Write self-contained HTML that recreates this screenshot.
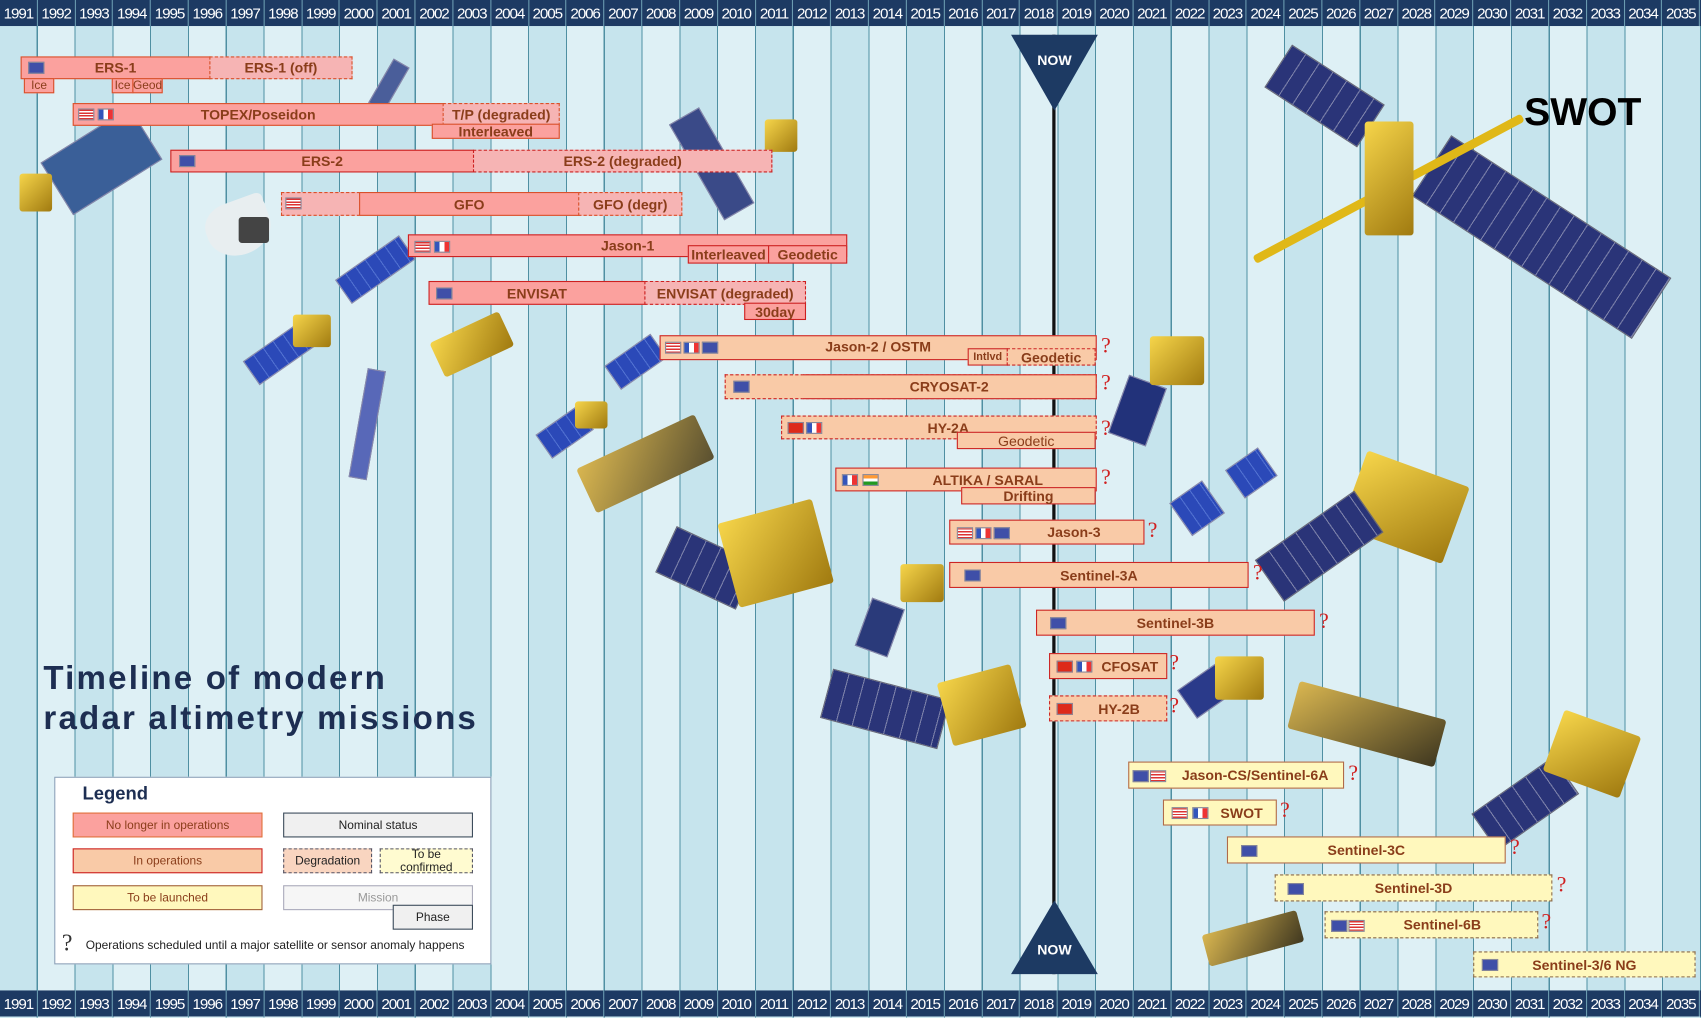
<!DOCTYPE html>
<html><head><meta charset="utf-8"><style>
html,body{margin:0;padding:0;width:1701px;height:1018px;overflow:hidden;background:#dff0f5}
#w{position:absolute;left:0;top:0;width:1568px;height:938px;transform:scale(1.08482);transform-origin:0 0;font-family:"Liberation Sans",sans-serif;
background:repeating-linear-gradient(90deg,#c6e4ed 0 33.8px,#4f8fa2 33.8px 34.84px,#def0f5 34.84px 68.65px,#4f8fa2 68.65px 69.69px);overflow:hidden}
.yr{position:absolute;left:0;width:1568px;height:24px;background:#1d3a63;display:flex}
.yr span{width:33.84px;border-right:1px solid #6b9bb0;color:#fff;font-size:14px;line-height:24px;text-align:center;letter-spacing:-1px;flex:none}
.b{position:absolute;box-sizing:border-box;border:1.5px solid #d9502a;background:#fba19e;color:#8a3d1a;font-weight:bold;font-size:13px;display:flex;align-items:center;justify-content:center;white-space:nowrap}
.d{border-style:dashed;background:#f6b4b4}
.r{border-color:#cc2020}
.o{background:#f9caa7;border-color:#cc2525}
.od{background:#f9caa7;border-color:#cc2525;border-style:dashed}
.y{background:#fff8bd;border-color:#b06a4a}
.yd{background:#fff8bd;border-color:#8a6a4a;border-style:dashed}
.s{font-size:11px}
.f{position:absolute;width:13px;height:9px;background:#3f4fa8;border:1px solid #889}
.us{background:repeating-linear-gradient(#d33 0 1.3px,#fff 1.3px 2.6px)}
.fr{background:linear-gradient(90deg,#3355bb 33%,#fff 33% 66%,#e33 66%)}
.cn{background:#dd2a1a}
.in{background:linear-gradient(#f93 33%,#fff 33% 66%,#292 66%)}
.q{position:absolute;color:#d02020;font-size:20px;font-family:"Liberation Serif",serif}
.p{position:absolute;background:repeating-linear-gradient(90deg,#2b49b8 0 10px,#5070d0 10px 11px);border:1px solid #88a}
.pd{position:absolute;background:repeating-linear-gradient(90deg,#2a3478 0 14px,#7a7fa8 14px 15px);border:1px solid #667}
.g{position:absolute;background:linear-gradient(135deg,#f6d54a,#a07a10);border-radius:3px}
.lg{position:absolute;box-sizing:border-box;font-size:11px;display:flex;align-items:center;justify-content:center;text-align:center;line-height:12px}
</style></head><body><div id="w">
<div class="yr" style="top:0"><span>1991</span><span>1992</span><span>1993</span><span>1994</span><span>1995</span><span>1996</span><span>1997</span><span>1998</span><span>1999</span><span>2000</span><span>2001</span><span>2002</span><span>2003</span><span>2004</span><span>2005</span><span>2006</span><span>2007</span><span>2008</span><span>2009</span><span>2010</span><span>2011</span><span>2012</span><span>2013</span><span>2014</span><span>2015</span><span>2016</span><span>2017</span><span>2018</span><span>2019</span><span>2020</span><span>2021</span><span>2022</span><span>2023</span><span>2024</span><span>2025</span><span>2026</span><span>2027</span><span>2028</span><span>2029</span><span>2030</span><span>2031</span><span>2032</span><span>2033</span><span>2034</span><span>2035</span></div>
<div class="yr" style="top:913px"><span>1991</span><span>1992</span><span>1993</span><span>1994</span><span>1995</span><span>1996</span><span>1997</span><span>1998</span><span>1999</span><span>2000</span><span>2001</span><span>2002</span><span>2003</span><span>2004</span><span>2005</span><span>2006</span><span>2007</span><span>2008</span><span>2009</span><span>2010</span><span>2011</span><span>2012</span><span>2013</span><span>2014</span><span>2015</span><span>2016</span><span>2017</span><span>2018</span><span>2019</span><span>2020</span><span>2021</span><span>2022</span><span>2023</span><span>2024</span><span>2025</span><span>2026</span><span>2027</span><span>2028</span><span>2029</span><span>2030</span><span>2031</span><span>2032</span><span>2033</span><span>2034</span><span>2035</span></div>

<div class="p" style="left:45px;top:120px;width:95px;height:55px;transform:rotate(-32deg);background:#3a5f98"></div>
<div class="g" style="left:18px;top:160px;width:30px;height:35px"></div>
<div style="position:absolute;left:190px;top:185px;width:60px;height:50px;background:#e8eef0;border-radius:40% 10% 50% 50%;transform:rotate(-20deg)"></div>
<div class="g" style="left:220px;top:200px;width:28px;height:24px;background:#444"></div>
<div class="p" style="left:350px;top:55px;width:15px;height:45px;transform:rotate(30deg);background:#4a5e9a"></div>
<div class="p" style="left:310px;top:235px;width:70px;height:25px;transform:rotate(-35deg)"></div>
<div class="p" style="left:225px;top:310px;width:70px;height:25px;transform:rotate(-35deg)"></div>
<div class="g" style="left:270px;top:290px;width:35px;height:30px"></div>
<div class="g" style="left:400px;top:300px;width:70px;height:35px;transform:rotate(-25deg)"></div>
<div class="p" style="left:330px;top:340px;width:15px;height:100px;transform:rotate(10deg);background:#5868b8"></div>
<div class="p" style="left:640px;top:100px;width:30px;height:100px;transform:rotate(-30deg);background:#3a4a88"></div>
<div class="g" style="left:705px;top:110px;width:30px;height:30px"></div>
<div class="p" style="left:560px;top:320px;width:50px;height:25px;transform:rotate(-35deg)"></div>
<div class="p" style="left:497px;top:385px;width:45px;height:25px;transform:rotate(-35deg)"></div>
<div class="g" style="left:530px;top:370px;width:30px;height:25px"></div>
<div class="g" style="left:535px;top:405px;width:120px;height:45px;transform:rotate(-25deg);background:linear-gradient(135deg,#d9b650,#5a5030)"></div>
<div class="pd" style="left:610px;top:500px;width:80px;height:45px;transform:rotate(25deg)"></div>
<div class="g" style="left:670px;top:470px;width:90px;height:80px;transform:rotate(-15deg)"></div>
<div class="pd" style="left:760px;top:630px;width:110px;height:45px;transform:rotate(15deg)"></div>
<div class="g" style="left:870px;top:620px;width:70px;height:60px;transform:rotate(-15deg)"></div>
<div class="p" style="left:795px;top:555px;width:30px;height:45px;transform:rotate(20deg);background:#2a3a7a"></div>
<div class="g" style="left:830px;top:520px;width:40px;height:35px"></div>
<div class="p" style="left:1030px;top:350px;width:35px;height:55px;transform:rotate(20deg);background:#22327a"></div>
<div class="g" style="left:1060px;top:310px;width:50px;height:45px"></div>
<div class="p" style="left:1085px;top:450px;width:35px;height:35px;transform:rotate(-35deg)"></div>
<div class="p" style="left:1135px;top:420px;width:35px;height:30px;transform:rotate(-35deg)"></div>
<div class="g" style="left:1245px;top:430px;width:100px;height:75px;transform:rotate(20deg)"></div>
<div class="pd" style="left:1160px;top:480px;width:110px;height:45px;transform:rotate(-35deg)"></div>
<div class="p" style="left:1090px;top:620px;width:45px;height:30px;transform:rotate(-35deg);background:#2a3a8a"></div>
<div class="g" style="left:1120px;top:605px;width:45px;height:40px"></div>
<div class="g" style="left:1190px;top:645px;width:140px;height:45px;transform:rotate(15deg);background:linear-gradient(135deg,#d9b650,#403820)"></div>
<div class="pd" style="left:1360px;top:720px;width:90px;height:40px;transform:rotate(-35deg)"></div>
<div class="g" style="left:1430px;top:665px;width:75px;height:60px;transform:rotate(20deg)"></div>
<div class="g" style="left:1110px;top:850px;width:90px;height:30px;transform:rotate(-15deg);background:linear-gradient(135deg,#d9b650,#403820)"></div>
<div class="pd" style="left:1170px;top:65px;width:100px;height:45px;transform:rotate(33deg)"></div>
<div class="pd" style="left:1300px;top:185px;width:240px;height:65px;transform:rotate(33deg)"></div>
<div class="g" style="left:1140px;top:170px;width:280px;height:8px;transform:rotate(-28deg);background:#e0b818"></div>
<div class="g" style="left:1258px;top:112px;width:45px;height:105px"></div>
<div style="position:absolute;left:1405px;top:82px;font-size:36px;font-weight:bold;color:#000">SWOT</div>

<div style="position:absolute;left:970px;top:32px;width:3px;height:866px;background:#111"></div>
<svg style="position:absolute;left:930px;top:30px" width="84" height="72"><polygon points="2,2 82,2 42,72" fill="#1d3a63"/><text x="42" y="30" fill="#fff" font-size="13" font-weight="bold" text-anchor="middle" font-family="Liberation Sans">NOW</text></svg>
<svg style="position:absolute;left:930px;top:828px" width="84" height="72"><polygon points="42,2 82,70 2,70" fill="#1d3a63"/><text x="42" y="52" fill="#fff" font-size="13" font-weight="bold" text-anchor="middle" font-family="Liberation Sans">NOW</text></svg>

<div class="b" style="left:19px;top:52px;width:175px;height:21px">ERS-1</div><div class="f" style="left:26px;top:57px"></div>
<div class="b d" style="left:193px;top:52px;width:132px;height:21px">ERS-1 (off)</div>
<div class="b s" style="left:22px;top:72px;width:28px;height:14px;font-weight:normal">Ice</div>
<div class="b s" style="left:103px;top:72px;width:20px;height:14px;font-weight:normal">Ice</div>
<div class="b s" style="left:122px;top:72px;width:28px;height:14px;font-weight:normal">Geod</div>

<div class="b" style="left:67px;top:95px;width:342px;height:21px">TOPEX/Poseidon</div><div class="f us" style="left:72px;top:100px"></div><div class="f fr" style="left:90px;top:100px"></div>
<div class="b d" style="left:408px;top:95px;width:108px;height:21px">T/P (degraded)</div>
<div class="b" style="left:398px;top:114px;width:118px;height:14px">Interleaved</div>

<div class="b r" style="left:157px;top:138px;width:280px;height:21px">ERS-2</div><div class="f" style="left:165px;top:143px"></div>
<div class="b r d" style="left:436px;top:138px;width:276px;height:21px">ERS-2 (degraded)</div>

<div class="b d" style="left:259px;top:177px;width:73px;height:22px"></div><div class="f us" style="left:263px;top:182px"></div>
<div class="b" style="left:331px;top:177px;width:203px;height:22px">GFO</div>
<div class="b d" style="left:533px;top:177px;width:96px;height:22px">GFO (degr)</div>

<div class="b r" style="left:376px;top:216px;width:405px;height:21px;justify-content:flex-start;padding-left:177px">Jason-1</div><div class="f us" style="left:382px;top:222px"></div><div class="f fr" style="left:400px;top:222px"></div>
<div class="b r" style="left:634px;top:226px;width:75px;height:17px">Interleaved</div>
<div class="b r" style="left:708px;top:226px;width:73px;height:17px">Geodetic</div>

<div class="b r" style="left:395px;top:259px;width:200px;height:22px">ENVISAT</div><div class="f" style="left:402px;top:265px"></div>
<div class="b r d" style="left:594px;top:259px;width:149px;height:22px">ENVISAT (degraded)</div>
<div class="b r" style="left:686px;top:279px;width:57px;height:16px">30day</div>

<div class="b o" style="left:608px;top:309px;width:403px;height:23px;padding-bottom:2px">Jason-2 / OSTM</div><div class="f us" style="left:613px;top:315px"></div><div class="f fr" style="left:630px;top:315px"></div><div class="f" style="left:647px;top:315px"></div>
<div class="b o s" style="left:892px;top:321px;width:37px;height:16px;font-size:10px">Intlvd</div>
<div class="b od" style="left:928px;top:321px;width:82px;height:16px">Geodetic</div>
<div class="q" style="left:1015px;top:308px">?</div>

<div class="b od" style="left:668px;top:345px;width:343px;height:23px"></div>
<div class="b o" style="left:740px;top:345px;width:271px;height:23px;border-left:none">CRYOSAT-2</div><div class="f" style="left:676px;top:351px"></div>
<div class="q" style="left:1015px;top:342px">?</div>

<div class="b od" style="left:720px;top:383px;width:291px;height:22px;justify-content:flex-start;padding-left:134px">HY-2A</div><div class="f cn" style="left:726px;top:389px"></div><div class="f fr" style="left:743px;top:389px"></div>
<div class="b o" style="left:882px;top:398px;width:128px;height:16px;font-weight:normal">Geodetic</div>
<div class="q" style="left:1015px;top:384px">?</div>

<div class="b o" style="left:770px;top:431px;width:241px;height:22px;padding-left:40px">ALTIKA / SARAL</div><div class="f fr" style="left:776px;top:437px"></div><div class="f in" style="left:795px;top:437px"></div>
<div class="b o" style="left:886px;top:449px;width:124px;height:16px">Drifting</div>
<div class="q" style="left:1015px;top:429px">?</div>

<div class="b o" style="left:875px;top:479px;width:180px;height:23px;padding-left:50px">Jason-3</div><div class="f us" style="left:882px;top:486px"></div><div class="f fr" style="left:899px;top:486px"></div><div class="f" style="left:916px;top:486px"></div>
<div class="q" style="left:1058px;top:478px">?</div>

<div class="b o" style="left:875px;top:518px;width:276px;height:24px">Sentinel-3A</div><div class="f" style="left:889px;top:525px"></div>
<div class="q" style="left:1155px;top:517px">?</div>

<div class="b o" style="left:955px;top:562px;width:257px;height:24px">Sentinel-3B</div><div class="f" style="left:968px;top:569px"></div>
<div class="q" style="left:1216px;top:562px">?</div>

<div class="b o" style="left:967px;top:602px;width:109px;height:24px;padding-left:40px">CFOSAT</div><div class="f cn" style="left:974px;top:609px"></div><div class="f fr" style="left:992px;top:609px"></div>
<div class="q" style="left:1078px;top:600px">?</div>

<div class="b od" style="left:967px;top:641px;width:109px;height:24px;padding-left:20px">HY-2B</div><div class="f cn" style="left:974px;top:648px"></div>
<div class="q" style="left:1078px;top:640px">?</div>

<div class="b y" style="left:1040px;top:702px;width:199px;height:25px;padding-left:35px">Jason-CS/Sentinel-6A</div><div class="f" style="left:1044px;top:710px"></div><div class="f us" style="left:1060px;top:710px"></div>
<div class="q" style="left:1243px;top:702px">?</div>

<div class="b y" style="left:1072px;top:737px;width:105px;height:24px;padding-left:40px">SWOT</div><div class="f us" style="left:1080px;top:744px"></div><div class="f fr" style="left:1099px;top:744px"></div>
<div class="q" style="left:1180px;top:736px">?</div>

<div class="b y" style="left:1131px;top:771px;width:257px;height:25px">Sentinel-3C</div><div class="f" style="left:1144px;top:779px"></div>
<div class="q" style="left:1392px;top:770px">?</div>

<div class="b yd" style="left:1175px;top:806px;width:256px;height:25px">Sentinel-3D</div><div class="f" style="left:1187px;top:814px"></div>
<div class="q" style="left:1435px;top:805px">?</div>

<div class="b yd" style="left:1221px;top:840px;width:197px;height:25px;padding-left:20px">Sentinel-6B</div><div class="f" style="left:1227px;top:848px"></div><div class="f us" style="left:1243px;top:848px"></div>
<div class="q" style="left:1421px;top:839px">?</div>

<div class="b yd" style="left:1358px;top:877px;width:205px;height:24px">Sentinel-3/6 NG</div><div class="f" style="left:1366px;top:884px"></div>

<div style="position:absolute;left:40px;top:607px;font-size:30.5px;font-weight:bold;color:#1d2e52;line-height:37px;letter-spacing:2px">Timeline of modern<br>radar altimetry missions</div>

<div style="position:absolute;left:50px;top:716px;width:403px;height:173px;background:#fff;border:1.5px solid #8aa0b8;box-sizing:border-box"></div>
<div style="position:absolute;left:76px;top:722px;font-size:17px;font-weight:bold;color:#1d2e52">Legend</div>
<div class="lg" style="left:67px;top:749px;width:175px;height:23px;background:#fba19e;border:1px solid #e0703a;color:#8a3d1a">No longer in operations</div>
<div class="lg" style="left:67px;top:782px;width:175px;height:23px;background:#f9caa7;border:1px solid #cc2020;color:#8a3d1a">In operations</div>
<div class="lg" style="left:67px;top:816px;width:175px;height:23px;background:#fff8bd;border:1px solid #a0603a;color:#8a3d1a">To be launched</div>
<div class="lg" style="left:261px;top:749px;width:175px;height:23px;background:#f0f0f0;border:1.5px solid #3a4a5a;color:#222">Nominal status</div>
<div class="lg" style="left:261px;top:782px;width:82px;height:23px;background:#f9d5c0;border:1.5px dashed #556;color:#222">Degradation</div>
<div class="lg" style="left:350px;top:782px;width:86px;height:23px;background:#fffbd0;border:1.5px dashed #556;color:#222">To be<br>confirmed</div>
<div class="lg" style="left:261px;top:816px;width:175px;height:23px;background:#f6f6f6;border:1px solid #aab;color:#999">Mission</div>
<div class="lg" style="left:362px;top:834px;width:74px;height:23px;background:#f0f0f0;border:1.5px solid #3a4a5a;color:#222">Phase</div>
<div style="position:absolute;left:57px;top:856px;font-size:22px;color:#333;font-family:'Liberation Serif',serif">?</div>
<div style="position:absolute;left:79px;top:866px;font-size:11px;color:#222">Operations scheduled until a major satellite or sensor anomaly happens</div>
</div></body></html>
